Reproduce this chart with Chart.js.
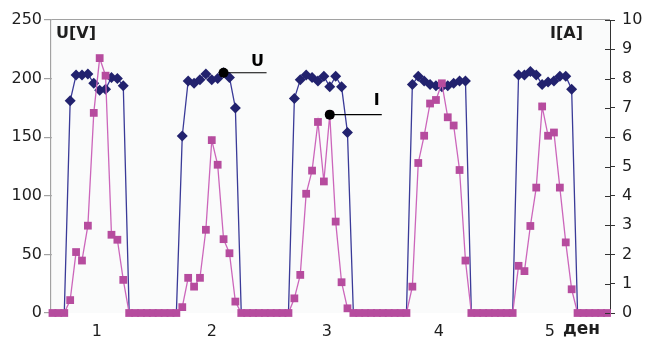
<!DOCTYPE html>
<html lang="ru">
<head>
<meta charset="UTF-8">
<title>U / I по дням</title>
<script src="https://cdn.jsdelivr.net/npm/chart.js"></script>
<style>
  html, body { margin:0; padding:0; background:#fff; }
</style>
</head>
<body>
<canvas id="chart" width="646" height="339"></canvas>
<script>
// ---- data: one sample per point, 5 days ----
const uVolts = [
  0, 0, 0,
  181, 203, 203, 204, 196, 190, 191, 201, 200, 194,
  0, 0, 0, 0, 0, 0, 0, 0, 0,
  151, 198, 196, 199, 204, 199, 200, 205, 201, 175,
  0, 0, 0, 0, 0, 0, 0, 0, 0,
  183, 199, 203, 201, 198, 202, 193, 202, 193, 154,
  0, 0, 0, 0, 0, 0, 0, 0, 0, 0,
  195, 202, 198, 195, 194, 193, 194, 196, 198, 198,
  0, 0, 0, 0, 0, 0, 0, 0,
  203, 203, 206, 203, 195, 197, 198, 202, 202, 191,
  0, 0, 0, 0, 0, 0
];
const iAmps = [
  0, 0, 0,
  0.44, 2.08, 1.79, 2.98, 6.83, 8.7, 8.1, 2.67, 2.5, 1.13,
  0, 0, 0, 0, 0, 0, 0, 0, 0,
  0.2, 1.2, 0.9, 1.2, 2.84, 5.9, 5.06, 2.52, 2.04, 0.39,
  0, 0, 0, 0, 0, 0, 0, 0, 0,
  0.5, 1.3, 4.07, 4.86, 6.52, 4.49, 6.77, 3.12, 1.05, 0.16,
  0, 0, 0, 0, 0, 0, 0, 0, 0, 0,
  0.9, 5.12, 6.05, 7.15, 7.27, 7.84, 6.68, 6.4, 4.88, 1.79,
  0, 0, 0, 0, 0, 0, 0, 0,
  1.61, 1.43, 2.97, 4.28, 7.05, 6.05, 6.16, 4.28, 2.41, 0.81,
  0, 0, 0, 0, 0, 0
];
const dayLabels = ['1', '2', '3', '4', '5'];
const dayTickAt = [7.5, 27, 46.5, 65.5, 84.3];   // sample index under each day label
const markU = 29;   // sample flagged "U"
const markI = 47;   // sample flagged "I"

const FONT = 'DejaVu Sans';
const TXT = '#1e1e1e';

// extra drawing: plot background, inner ticks on I axis, flags and titles
const decor = {
  id: 'decor',
  beforeDatasetsDraw(chart) {
    const { ctx, chartArea: a } = chart;
    ctx.save();
    ctx.fillStyle = '#fafbfb';
    ctx.fillRect(a.left + 1, a.top, a.right - a.left - 1, a.bottom - a.top);
    ctx.restore();
  },
  afterDatasetsDraw(chart) {
    const { ctx, chartArea: a, scales } = chart;
    const x = scales.x, yU = scales.yU, yI = scales.yI;
    ctx.save();
    // inward half of the crossing ticks on the right axis
    ctx.strokeStyle = '#333';
    ctx.lineWidth = 1;
    yI.ticks.forEach(t => {
      const py = Math.round(yI.getPixelForValue(t.value)) + 0.5;
      ctx.beginPath();
      ctx.moveTo(a.right - 5, py);
      ctx.lineTo(a.right, py);
      ctx.stroke();
    });

    // flags
    const flag = (px, py, len, text, dx, dy) => {
      ctx.strokeStyle = '#000';
      ctx.lineWidth = 1.2;
      ctx.beginPath();
      ctx.moveTo(px, py);
      ctx.lineTo(px + len, py);
      ctx.stroke();
      ctx.fillStyle = '#000';
      ctx.beginPath();
      ctx.arc(px, py, 5, 0, Math.PI * 2);
      ctx.fill();
      ctx.font = 'bold 16px ' + FONT;
      ctx.textAlign = 'center';
      ctx.textBaseline = 'middle';
      ctx.fillText(text, px + dx, py + dy);
    };
    flag(x.getPixelForValue(markU), yU.getPixelForValue(uVolts[markU]), 43, 'U', 34, -11);
    flag(x.getPixelForValue(markI), yI.getPixelForValue(iAmps[markI]), 52, 'I', 47, -14);

    // axis titles inside the plot
    ctx.fillStyle = TXT;
    ctx.font = 'bold 16px ' + FONT;
    ctx.textBaseline = 'middle';
    ctx.textAlign = 'left';
    ctx.fillText('U[V]', a.left + 5, a.top + 14);
    ctx.textAlign = 'right';
    ctx.fillText('I[A]', a.right - 27, a.top + 14);

    // unit after the last day label
    ctx.font = 'bold 17px ' + FONT;
    ctx.textAlign = 'left';
    ctx.fillText('ден', 563, 330);
    ctx.restore();
  }
};

new Chart(document.getElementById('chart'), {
  type: 'line',
  data: {
    datasets: [
      {
        label: 'I',
        data: iAmps.map((v, i) => ({ x: i, y: v })),
        yAxisID: 'yI',
        borderColor: '#cc66bb',
        borderWidth: 1.3,
        pointStyle: 'rect',
        pointRadius: 5.5,
        pointBackgroundColor: '#b64c9e',
        pointBorderWidth: 0,
        clip: false
      },
      {
        label: 'U',
        data: uVolts.map((v, i) => ({ x: i, y: v })),
        yAxisID: 'yU',
        borderColor: '#3a3a98',
        borderWidth: 1.3,
        pointStyle: 'rectRot',
        // night samples sit under the I markers
        pointRadius: c => (c.raw && c.raw.y === 0 ? 0 : 5.5),
        pointBackgroundColor: '#22226e',
        pointBorderWidth: 0,
        clip: false
      }
    ]
  },
  options: {
    responsive: false,
    animation: false,
    devicePixelRatio: 1,
    layout: { padding: { top: 20, left: 0, right: 0, bottom: 0 } },
    plugins: { legend: { display: false }, tooltip: { enabled: false } },
    scales: {
      x: {
        type: 'linear',
        min: -0.25,
        max: 94.5,
        grid: { display: false, drawTicks: false },
        border: { display: false },
        afterBuildTicks: s => { s.ticks = dayTickAt.map(v => ({ value: v })); },
        afterFit: s => { s.height = 26; s.paddingLeft = 0; s.paddingRight = 0; },
        ticks: {
          autoSkip: false,
          maxRotation: 0,
          padding: 9,
          color: TXT,
          font: { family: FONT, size: 16 },
          callback: (v, i) => dayLabels[i]
        }
      },
      yU: {
        position: 'left',
        min: 0,
        max: 250,
        grid: {
          color: c => c.tick.value === 0 ? 'rgba(0,0,0,0)' : '#a2a2a2',
          tickColor: '#a2a2a2',
          tickLength: 7,
          lineWidth: 1.2
        },
        border: { color: '#a2a2a2', width: 1.2 },
        afterFit: s => { s.width = 51; s.paddingTop = 0; s.paddingBottom = 0; },
        ticks: {
          stepSize: 50,
          padding: 2,
          color: TXT,
          font: { family: FONT, size: 16 }
        }
      },
      yI: {
        position: 'right',
        min: 0,
        max: 10,
        grid: { drawOnChartArea: false, tickColor: '#333', tickLength: 5 },
        border: { color: '#333', width: 1 },
        afterFit: s => { s.width = 36; s.paddingTop = 0; s.paddingBottom = 0; },
        ticks: {
          stepSize: 1,
          padding: 7,
          color: TXT,
          font: { family: FONT, size: 16 }
        }
      }
    }
  },
  plugins: [decor]
});
</script>
</body>
</html>
